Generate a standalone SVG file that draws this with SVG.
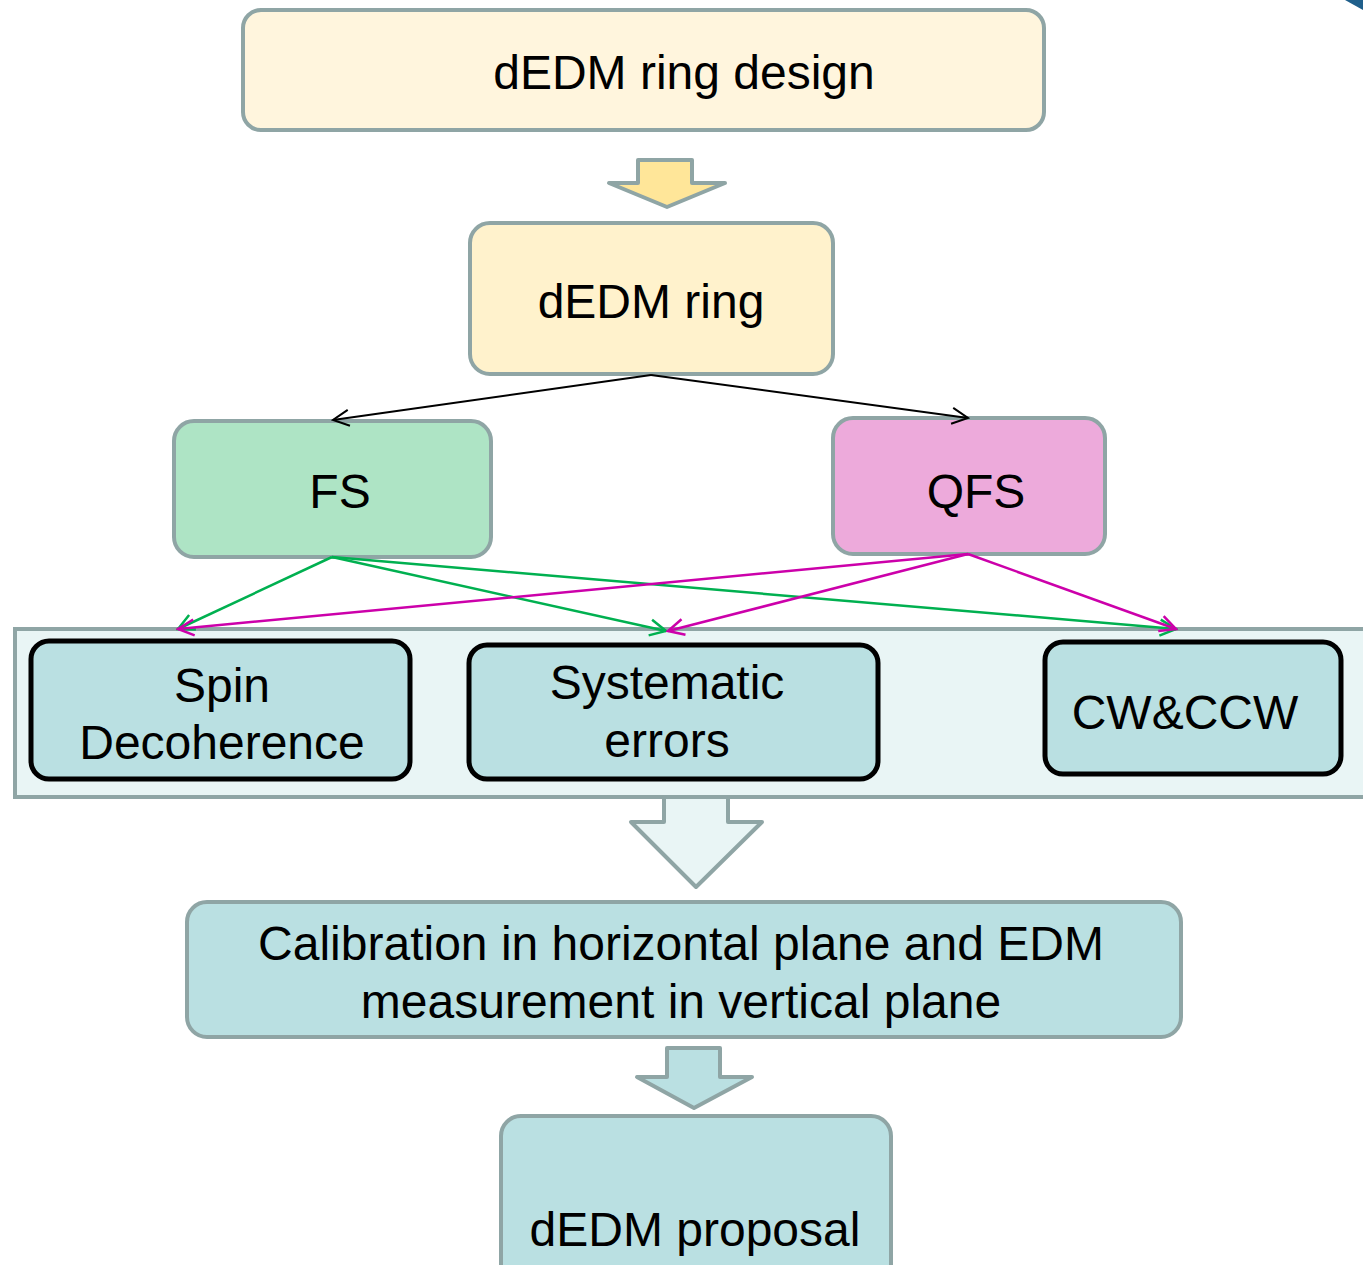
<svg xmlns="http://www.w3.org/2000/svg" width="1363" height="1265" viewBox="0 0 1363 1265">
<style>
.t{font-family:"Liberation Sans",Arial,sans-serif;font-size:48px;fill:#000;text-anchor:middle}
.gb{stroke:#8FA5A5;stroke-width:4}
.bb{stroke:#000;stroke-width:5}
.g{stroke:#00B050;stroke-width:2.5;fill:none}
.m{stroke:#CC00AA;stroke-width:2.5;fill:none}
.k{stroke:#000;stroke-width:2;fill:none}
</style>
<defs>
<marker id="ak" viewBox="0 0 20 20" refX="18" refY="10" markerWidth="20" markerHeight="20" markerUnits="userSpaceOnUse" orient="auto"><path d="M2,2 L18,10 L2,18" fill="none" stroke="#000" stroke-width="2"/></marker>
<marker id="ag" viewBox="0 0 20 20" refX="18" refY="10" markerWidth="20" markerHeight="20" markerUnits="userSpaceOnUse" orient="auto"><path d="M2,2 L18,10 L2,18" fill="none" stroke="#00B050" stroke-width="2.5"/></marker>
<marker id="am" viewBox="0 0 20 20" refX="18" refY="10" markerWidth="20" markerHeight="20" markerUnits="userSpaceOnUse" orient="auto"><path d="M2,2 L18,10 L2,18" fill="none" stroke="#CC00AA" stroke-width="2.5"/></marker>
</defs>
<rect width="1363" height="1265" fill="#fff"/>
<path d="M1345,0 L1363,0 L1363,10 Z" fill="#1F5F8B"/>
<g id="band"><rect x="15" y="629" width="1360" height="168" fill="#E9F5F5" class="gb"/></g>
<g id="n1"><rect x="243" y="10" width="801" height="120" rx="18" fill="#FFF5DD" class="gb"/><text class="t" x="684" y="89">dEDM ring design</text></g>
<g id="arrow1"><path d="M638,160 L692,160 L692,183 L725,183 L667,207 L609,183 L638,183 Z" fill="#FFE699" class="gb" stroke-linejoin="round"/></g>
<g id="n2"><rect x="470" y="223" width="363" height="151" rx="20" fill="#FFF2CC" class="gb"/><text class="t" x="651" y="318">dEDM ring</text></g>
<g id="fs"><rect x="174" y="421" width="317" height="136" rx="20" fill="#AEE4C5" class="gb"/><text class="t" x="340" y="508">FS</text></g>
<g id="qfs"><rect x="833" y="418" width="272" height="136" rx="20" fill="#EDAADB" class="gb"/><text class="t" x="976" y="508">QFS</text></g>
<g id="spin"><rect x="31" y="641" width="379" height="138" rx="18" fill="#BAE0E2" class="bb"/><text class="t" x="222" y="702">Spin</text><text class="t" x="222" y="759">Decoherence</text></g>
<g id="sys"><rect x="469" y="645" width="409" height="134" rx="18" fill="#BAE0E2" class="bb"/><text class="t" x="667" y="699">Systematic</text><text class="t" x="667" y="757">errors</text></g>
<g id="cw"><rect x="1045" y="642" width="296" height="132" rx="18" fill="#BAE0E2" class="bb"/><text class="t" x="1185" y="729">CW&amp;CCW</text></g>
<g id="arrow2"><path d="M664,797 L728,797 L728,822 L762,822 L696,887 L631,822 L664,822 Z" fill="#E9F5F5" class="gb" stroke-linejoin="round"/></g>
<g id="cal"><rect x="187" y="902" width="994" height="135" rx="20" fill="#BAE0E2" class="gb"/><text class="t" x="681" y="960">Calibration in horizontal plane and EDM</text><text class="t" x="681" y="1018">measurement in vertical plane</text></g>
<g id="arrow3"><path d="M667,1048 L720,1048 L720,1077 L752,1077 L694,1108 L637,1077 L667,1077 Z" fill="#BAE0E2" class="gb" stroke-linejoin="round"/></g>
<g id="prop"><rect x="501" y="1116" width="390" height="170" rx="20" fill="#BAE0E2" class="gb"/><text class="t" x="695" y="1246">dEDM proposal</text></g>
<g id="connectors">
<line x1="651" y1="375" x2="333" y2="420" class="k" marker-end="url(#ak)"/>
<line x1="651" y1="375" x2="968" y2="418" class="k" marker-end="url(#ak)"/>
<line x1="332" y1="557" x2="178" y2="629" class="g" marker-end="url(#ag)"/>
<line x1="332" y1="557" x2="666" y2="631" class="g" marker-end="url(#ag)"/>
<line x1="332" y1="557" x2="1176" y2="629" class="g" marker-end="url(#ag)"/>
<line x1="968" y1="554" x2="178" y2="629" class="m" marker-end="url(#am)"/>
<line x1="968" y1="554" x2="668" y2="631" class="m" marker-end="url(#am)"/>
<line x1="968" y1="554" x2="1176" y2="629" class="m" marker-end="url(#am)"/>
</g>
</svg>
